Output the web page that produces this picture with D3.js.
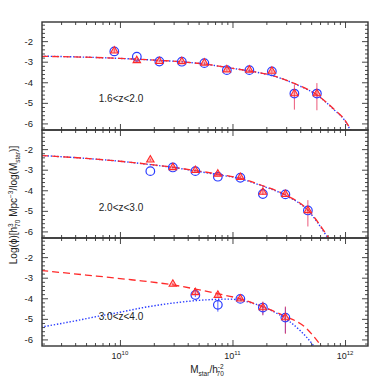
<!DOCTYPE html>
<html><head><meta charset="utf-8">
<script src="https://cdn.jsdelivr.net/npm/d3@7"></script>
<style>body{margin:0;background:#fff}svg{display:block}text{font-family:"Liberation Sans",Arial,sans-serif;fill:#222}</style>
</head><body><svg id="c" width="388" height="388"></svg>
<script>
// ---- data (log10 stellar mass, log10 phi) ----
const panelLabels = ["1.6<z<2.0", "2.0<z<3.0", "3.0<z<4.0"];

const mass1 = [9.95, 10.15, 10.35, 10.55, 10.75, 10.95, 11.15, 11.35, 11.55, 11.75];
const blue1 = [-2.50, -2.76, -2.99, -3.00, -3.07, -3.41, -3.41, -3.47, -4.55, -4.55];
const red1  = [-2.47, -2.94, -2.98, -2.99, -3.06, -3.39, -3.40, -3.46, -4.55, -4.55];
const red1Hi = [0.12, 0.05, 0.04, 0.04, 0.04, 0.06, 0.06, 0.07, 0.43, 0.51];
const red1Lo = [0.10, 0.05, 0.04, 0.04, 0.04, 0.06, 0.06, 0.07, 0.78, 0.81];

const mass2 = [10.27, 10.47, 10.67, 10.87, 11.07, 11.27, 11.47, 11.67];
const blue2 = [-3.07, -2.89, -3.07, -3.34, -3.39, -4.18, -4.20, -4.98];
const red2  = [-2.52, -2.89, -3.03, -3.21, -3.37, -4.09, -4.20, -4.98];
const red2Hi = [0.05, 0.05, 0.05, 0.06, 0.07, 0.12, 0.10, 0.50];
const red2Lo = [0.05, 0.05, 0.05, 0.06, 0.07, 0.14, 0.12, 0.78];

const mass3 = [10.47, 10.67, 10.87, 11.07, 11.27, 11.47];
const blue3 = [null, -3.84, -4.32, -4.03, -4.45, -4.94];
const red3  = [-3.31, -3.72, -3.85, -4.03, -4.45, -4.94];
const red3Hi = [0.05, 0.08, 0.06, 0.06, 0.29, 0.54];
const red3Lo = [0.05, 0.08, 0.06, 0.06, 0.38, 0.79];
const blue3Hi = [0, 0.10, 0.22, 0.06, 0.25, 0.50];
const blue3Lo = [0, 0.10, 0.33, 0.06, 0.35, 0.75];

// fitted curves [logM, logPhi]
const fitRed1 = [[9.3,-2.74],[9.7,-2.78],[10.0,-2.84],[10.36,-2.94],[10.56,-3.01],[10.76,-3.12],[10.96,-3.29],[11.16,-3.46],[11.36,-3.68],[11.56,-4.08],[11.76,-4.65],[11.9,-5.3],[12.0,-5.85],[12.06,-6.4]];
const fitBlue1 = [[9.3,-2.73],[9.7,-2.78],[10.0,-2.84],[10.36,-2.94],[10.56,-3.01],[10.76,-3.12],[10.96,-3.29],[11.16,-3.46],[11.36,-3.69],[11.56,-4.09],[11.76,-4.66],[11.9,-5.32],[12.0,-5.88],[12.06,-6.45]];
const fitRed2 = [[9.3,-2.31],[9.7,-2.45],[10.0,-2.59],[10.28,-2.75],[10.47,-2.88],[10.67,-3.04],[10.87,-3.21],[11.07,-3.42],[11.27,-3.78],[11.47,-4.22],[11.67,-4.95],[11.84,-6.2],[11.87,-6.45]];
const fitBlue2 = [[9.3,-2.31],[9.7,-2.45],[10.0,-2.59],[10.28,-2.76],[10.47,-2.89],[10.67,-3.06],[10.87,-3.24],[11.07,-3.44],[11.27,-3.8],[11.47,-4.24],[11.67,-4.98],[11.84,-6.25],[11.87,-6.5]];
const fitRed3 = [[9.3,-2.65],[9.7,-2.87],[10.1,-3.1],[10.47,-3.35],[10.67,-3.55],[10.87,-3.78],[11.07,-4.03],[11.27,-4.42],[11.47,-4.88],[11.64,-5.38],[11.8,-6.4]];
const fitBlue3 = [[9.3,-5.40],[9.6,-5.1],[9.81,-4.87],[10.0,-4.68],[10.2,-4.46],[10.49,-4.22],[10.79,-4.07],[10.97,-4.04],[11.14,-4.18],[11.32,-4.53],[11.5,-5.1],[11.71,-6.23],[11.74,-6.45]];

const xMajor = [10, 11, 12];
const yMajor = [-2, -3, -4, -5, -6];

// ---- layout ----
const L = 42, R = 368, tops = [22, 130, 238], PH = 108;
const svg = d3.select("#c");
const x = d3.scaleLog().domain([2.03e9, 1.6e12]).range([L, R]);
const xMinor = [];
for (let e = 9; e <= 12; e++) for (let k = 2; k <= 9; k++) { const v = k * Math.pow(10, e); if (v >= 2.03e9 && v <= 1.6e12) xMinor.push(v); }
const yMinor = d3.range(-6.2, -1.0, 0.2).map(v => Math.round(v * 10) / 10).filter(v => Math.abs(v - Math.round(v)) > 0.01);

const panels = [
  {mass: mass1, blue: blue1, red: red1, rHi: red1Hi, rLo: red1Lo, bHi: null, bLo: null, fr: fitRed1, fb: fitBlue1},
  {mass: mass2, blue: blue2, red: red2, rHi: red2Hi, rLo: red2Lo, bHi: null, bLo: null, fr: fitRed2, fb: fitBlue2},
  {mass: mass3, blue: blue3, red: red3, rHi: red3Hi, rLo: red3Lo, bHi: blue3Hi, bLo: blue3Lo, fr: fitRed3, fb: fitBlue3}
];

const RED = "#ff2a2a", BLUE = "#2a3cff";

panels.forEach((p, i) => {
  const top = tops[i], bot = top + PH;
  const y = d3.scaleLinear().domain([-6.32, -1.07]).range([bot, top]);
  const g = svg.append("g");
  const cid = "clip" + i;
  svg.append("clipPath").attr("id", cid).append("rect").attr("x", L).attr("y", top).attr("width", R - L).attr("height", PH);

  [[d3.axisBottom(x), bot], [d3.axisTop(x), top]].forEach(([ax, pos]) => {
    g.append("g").attr("transform", `translate(0,${pos})`)
      .call(ax.tickValues(xMinor).tickSize(-3).tickFormat(""))
      .call(s => s.select(".domain").remove());
    g.append("g").attr("transform", `translate(0,${pos})`)
      .call(ax.tickValues(xMajor.map(e => Math.pow(10, e))).tickSize(-6).tickFormat(""))
      .call(s => s.select(".domain").remove());
  });
  [[d3.axisLeft(y), L], [d3.axisRight(y), R]].forEach(([ax, pos]) => {
    g.append("g").attr("transform", `translate(${pos},0)`)
      .call(ax.tickValues(yMinor).tickSize(-3).tickFormat(""))
      .call(s => s.select(".domain").remove());
  });
  g.append("g").attr("transform", `translate(${R},0)`)
    .call(d3.axisRight(y).tickValues(yMajor).tickSize(-6).tickFormat(""))
    .call(s => s.select(".domain").remove());
  g.append("g").attr("transform", `translate(${L},0)`)
    .call(d3.axisLeft(y).tickValues(yMajor).tickSize(-6).tickPadding(9).tickFormat(d => "-" + Math.abs(d)))
    .call(s => s.select(".domain").remove())
    .call(s => s.selectAll("text").attr("font-size", 9.5).style("font-family", "'Liberation Sans',Arial,sans-serif").attr("fill", "#222"));
  g.selectAll(".tick line").attr("stroke", "#333").attr("stroke-width", 0.9);

  // curves
  const line = d3.line().x(d => x(Math.pow(10, d[0]))).y(d => y(d[1])).curve(d3.curveMonotoneX);
  const cg = g.append("g").attr("clip-path", `url(#${cid})`);
  cg.append("path").attr("d", line(p.fb)).attr("fill", "none").attr("stroke", BLUE)
    .attr("stroke-width", 1.4).attr("stroke-dasharray", "1.4,1.8");
  cg.append("path").attr("d", line(p.fr)).attr("fill", "none").attr("stroke", RED)
    .attr("stroke-width", 1.3).attr("stroke-dasharray", "7,4");

  // error bars
  p.mass.forEach((m, j) => {
    if (p.bHi && p.blue[j] != null && p.bHi[j] > 0) {
      cg.append("line").attr("x1", x(Math.pow(10, m))).attr("x2", x(Math.pow(10, m)))
        .attr("y1", y(p.blue[j] + p.bHi[j])).attr("y2", y(p.blue[j] - p.bLo[j]))
        .attr("stroke", BLUE).attr("stroke-width", 1).attr("opacity", 0.8);
    }
    cg.append("line").attr("x1", x(Math.pow(10, m))).attr("x2", x(Math.pow(10, m)))
      .attr("y1", y(p.red[j] + p.rHi[j])).attr("y2", y(p.red[j] - p.rLo[j]))
      .attr("stroke", "#e8305a").attr("stroke-width", 1).attr("opacity", 0.8);
  });

  // blue circles
  p.mass.forEach((m, j) => {
    if (p.blue[j] == null) return;
    cg.append("circle").attr("cx", x(Math.pow(10, m))).attr("cy", y(p.blue[j])).attr("r", 4.3)
      .attr("fill", "none").attr("stroke", BLUE).attr("stroke-width", 1.2);
  });
  // red triangles
  const tri = d3.symbol().type(d3.symbolTriangle).size(24);
  p.mass.forEach((m, j) => {
    cg.append("path").attr("d", tri()).attr("transform", `translate(${x(Math.pow(10, m))},${y(p.red[j])})`)
      .attr("fill", "rgba(255,60,60,0.35)").attr("stroke", RED).attr("stroke-width", 1.1);
  });

  // panel label
  g.append("text").attr("x", 121).attr("y", [102, 211, 320][i]).attr("text-anchor", "middle")
    .attr("font-size", 10).text(panelLabels[i]);

  // frame
  g.append("rect").attr("x", L).attr("y", top).attr("width", R - L).attr("height", PH)
    .attr("fill", "none").attr("stroke", "#333").attr("stroke-width", 1.4);
});

// x tick labels (bottom panel only)
const xl = svg.append("g");
xMajor.forEach(e => {
  const t = xl.append("text").attr("x", x(Math.pow(10, e))).attr("y", 359).attr("text-anchor", "middle").attr("font-size", 9);
  t.append("tspan").text("10");
  t.append("tspan").attr("dy", -4).attr("font-size", 6).text(e);
});

// x title
const xt = svg.append("text").attr("x", 207).attr("y", 373).attr("text-anchor", "middle").attr("font-size", 10);
xt.append("tspan").text("M");
xt.append("tspan").attr("dy", 2.5).attr("font-size", 6.5).text("star");
xt.append("tspan").attr("dy", -2.5).text("/h");
xt.append("tspan").attr("dy", -4).attr("font-size", 6.5).text("-2");
xt.append("tspan").attr("dx", -7).attr("dy", 7).attr("font-size", 6.5).text("70");

// y title
const yt = svg.append("text").attr("transform", "translate(17,205) rotate(-90)").attr("text-anchor", "middle").attr("font-size", 10);
yt.append("tspan").text("Log(ϕ)[h");
yt.append("tspan").attr("dy", -4).attr("font-size", 6.5).text("3");
yt.append("tspan").attr("dx", -3.6).attr("dy", 7).attr("font-size", 6.5).text("70");
yt.append("tspan").attr("dy", -3).text(" Mpc");
yt.append("tspan").attr("dy", -4).attr("font-size", 6.5).text("−3");
yt.append("tspan").attr("dy", 4).text("/log(M");
yt.append("tspan").attr("dy", 2.5).attr("font-size", 6.5).text("star");
yt.append("tspan").attr("dy", -2.5).text(")]");
</script></body></html>
